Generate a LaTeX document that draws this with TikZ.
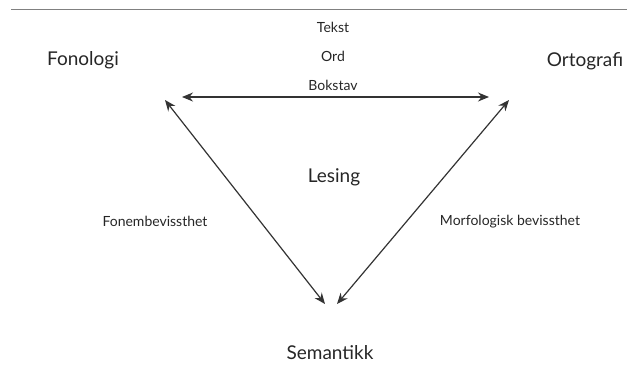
\documentclass[tikz,border=0pt]{standalone}
\usepackage{fontspec}
\setmainfont{Lato}
\usetikzlibrary{arrows.meta}
\begin{document}
\begin{tikzpicture}[x=1pt,y=-1pt,
  big/.style={font=\fontsize{19}{22}\selectfont, text=black!85, inner sep=0pt},
  small/.style={font=\fontsize{14}{16}\selectfont, text=black!85, inner sep=0pt},
  conn/.style={draw=black!80, line width=1.2pt, {Stealth[length=11pt,width=9pt]}-{Stealth[length=11pt,width=9pt]}}]
\useasboundingbox (0,0) rectangle (627,365);
\coordinate (ls) at (11,9.5);
\coordinate (le) at (627,9.5);
\draw[gray, line width=1.5pt] (ls) -- (le);
\node[small] (tekst) at (333,27) {Tekst};
\node[small] (ord) at (333,56) {Ord};
\node[small] (bokstav) at (333,85) {Bokstav};
\node[big] (fonologi) at (83,60) {Fonologi};
\node[big] (ortografi) at (585,61) {Ortografi};
\node[big] (lesing) at (334,177) {Lesing};
\node[small] (fonem) at (155,221) {Fonembevissthet};
\node[small] (morf) at (510,222) {Morfologisk bevissthet};
\node[big] (semantikk) at (330,353) {Semantikk};
\coordinate (hl) at (182,97);
\coordinate (hr) at (489,97);
\coordinate (tl) at (165,100);
\coordinate (tr) at (509,100);
\coordinate (bl) at (325,304);
\coordinate (br) at (337,304);
\draw[conn] (hl) -- (hr);
\draw[conn] (tl) -- (bl);
\draw[conn] (tr) -- (br);
\end{tikzpicture}
\end{document}
